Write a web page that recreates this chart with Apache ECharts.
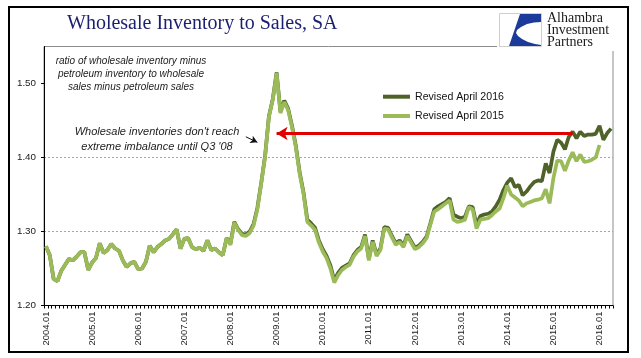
<!DOCTYPE html>
<html>
<head>
<meta charset="utf-8">
<script src="https://cdn.jsdelivr.net/npm/echarts@6/dist/echarts.min.js"></script>
<style>
html,body{margin:0;padding:0;background:#fff;}
#chart{width:641px;height:358px;}
</style>
</head>
<body>
<div id="chart"></div>
<script>
// ---- data ----
const startYear = 2004;
const monthCount = 148; // 2004.01 .. 2016.04
const categories = [];
for (let k = 0; k < monthCount; k++) {
  const y = startYear + Math.floor(k / 12);
  const m = (k % 12) + 1;
  categories.push(y + '.' + (m < 10 ? '0' + m : '' + m));
}

const revisedApril2016 = [
  1.280,1.268,1.236,1.233,1.247,1.255,1.263,1.261,1.266,1.272,1.272,1.248,
  1.258,1.264,1.284,1.271,1.275,1.283,1.277,1.274,1.261,1.252,1.257,1.259,
  1.249,1.250,1.259,1.281,1.272,1.279,1.283,1.288,1.290,1.296,1.303,1.277,
  1.290,1.291,1.279,1.276,1.278,1.274,1.288,1.275,1.277,1.272,1.268,1.291,
  1.284,1.313,1.303,1.297,1.296,1.300,1.310,1.332,1.366,1.402,1.456,1.479,
  1.515,1.462,1.477,1.466,1.443,1.416,1.380,1.353,1.316,1.311,1.305,1.288,
  1.276,1.267,1.254,1.234,1.244,1.251,1.254,1.257,1.268,1.275,1.279,1.296,
  1.263,1.288,1.269,1.277,1.306,1.305,1.294,1.284,1.288,1.281,1.296,1.287,
  1.278,1.281,1.286,1.293,1.311,1.330,1.334,1.337,1.340,1.345,1.323,1.320,
  1.318,1.320,1.334,1.333,1.309,1.321,1.323,1.324,1.327,1.334,1.343,1.356,
  1.366,1.372,1.360,1.363,1.349,1.354,1.361,1.367,1.369,1.368,1.392,1.379,
  1.408,1.424,1.420,1.411,1.428,1.435,1.426,1.435,1.429,1.431,1.431,1.432,
  1.443,1.424,1.433,1.439
];

const revisedApril2015 = [
  1.280,1.268,1.236,1.233,1.247,1.255,1.263,1.261,1.266,1.272,1.272,1.248,
  1.258,1.264,1.284,1.271,1.275,1.283,1.277,1.274,1.261,1.252,1.257,1.259,
  1.249,1.250,1.259,1.281,1.272,1.279,1.283,1.288,1.290,1.296,1.303,1.277,
  1.290,1.291,1.279,1.276,1.278,1.274,1.288,1.275,1.277,1.272,1.268,1.291,
  1.282,1.312,1.302,1.295,1.294,1.298,1.308,1.330,1.365,1.401,1.455,1.478,
  1.514,1.460,1.475,1.464,1.441,1.414,1.378,1.351,1.313,1.308,1.302,1.285,
  1.273,1.264,1.250,1.231,1.241,1.248,1.252,1.255,1.266,1.273,1.277,1.294,
  1.261,1.286,1.267,1.275,1.304,1.303,1.292,1.282,1.286,1.279,1.294,1.285,
  1.276,1.279,1.284,1.291,1.309,1.327,1.330,1.334,1.338,1.342,1.316,1.313,
  1.314,1.316,1.333,1.330,1.304,1.316,1.317,1.318,1.322,1.327,1.331,1.345,
  1.362,1.350,1.346,1.342,1.334,1.338,1.340,1.342,1.343,1.345,1.357,1.338,
  1.372,1.396,1.395,1.382,1.396,1.407,1.395,1.404,1.394,1.395,1.397,1.400,
  1.417
];

const yTickValues = [1.20, 1.30, 1.40, 1.50];
const seriesNames = ['Revised April 2016', 'Revised April 2015'];

// annotation arrows in data space [categoryIndex, value]
const redArrow = [[137, 1.4324], [60, 1.4324]];
const blackArrow = [[52, 1.4280], [55, 1.4205]];

const titleText = 'Wholesale Inventory to Sales, SA';
const noteText = 'ratio of wholesale inventory minus\npetroleum inventory to wholesale\nsales minus petroleum sales';
const calloutText = "Wholesale inventories don't reach\nextreme imbalance until Q3 '08";

// ---- chart ----
const chart = echarts.init(document.getElementById('chart'), null, {renderer: 'canvas'});
const DARK = '#4f6228', LIGHT = '#9bbb59';

const option = {
  animation: false,
  backgroundColor: '#ffffff',
  grid: {left: 44, right: 28, top: 46.5, bottom: 52.5, show: true, borderColor: '#8c8c8c', borderWidth: 1, backgroundColor: 'transparent'},
  legend: {
    data: seriesNames,
    orient: 'vertical',
    left: 383, top: 89.7,
    padding: 0,
    itemWidth: 27, itemHeight: 4, itemGap: 5.3,
    icon: 'rect',
    selectedMode: false,
    textStyle: {fontFamily: 'Liberation Sans', fontSize: 10.6, color: '#111', lineHeight: 14}
  },
  xAxis: {
    type: 'category',
    data: categories,
    boundaryGap: true,
    axisLine: {lineStyle: {color: '#000', width: 1}},
    axisTick: {show: true, interval: 0, length: 3, lineStyle: {color: '#000'}},
    axisLabel: {interval: 11, rotate: 90, margin: 6, fontFamily: 'Liberation Sans', fontSize: 9.4, color: '#1a1a1a'},
    splitLine: {show: false}
  },
  yAxis: {
    type: 'value',
    min: 1.2, max: 1.55, interval: 0.1,
    axisLine: {show: true, lineStyle: {color: '#000', width: 1}},
    axisTick: {show: true, length: 3, lineStyle: {color: '#000'}, customValues: yTickValues},
    axisLabel: {customValues: yTickValues, margin: 8, fontFamily: 'Liberation Sans', fontSize: 9.8, color: '#1a1a1a',
      formatter: v => v.toFixed(2)},
    splitLine: {show: true, showMinLine: false, showMaxLine: false, lineStyle: {color: '#a6a6a6', type: [2, 2], width: 1}}
  },
  series: [
    {
      name: seriesNames[0], type: 'line', data: revisedApril2016,
      showSymbol: false, symbol: 'none', z: 2,
      lineStyle: {color: DARK, width: 3.7}, itemStyle: {color: DARK},
      emphasis: {disabled: true}
    },
    {
      name: seriesNames[1], type: 'line', data: revisedApril2015,
      showSymbol: false, symbol: 'none', z: 3,
      lineStyle: {color: LIGHT, width: 3.7}, itemStyle: {color: LIGHT},
      emphasis: {disabled: true},
      markLine: {
        silent: true, animation: false,
        label: {show: false},
        emphasis: {disabled: true},
        data: [
          [{coord: redArrow[0], symbol: 'none', lineStyle: {color: '#e00000', width: 3, type: 'solid'}},
           {coord: redArrow[1], symbol: 'arrow', symbolSize: [10, 11]}],
          [{coord: blackArrow[0], symbol: 'none', lineStyle: {color: '#111', width: 1, type: 'solid'}},
           {coord: blackArrow[1], symbol: 'arrow', symbolSize: [6, 7], itemStyle: {color: '#111'}}]
        ]
      }
    }
  ],
  graphic: [
    {type: 'rect', z: 100, shape: {x: 9, y: 7, width: 619, height: 345}, style: {fill: 'none', stroke: '#000', lineWidth: 2}},
    {type: 'text', z: 100, x: 67, y: 24, style: {text: titleText, fontFamily: 'Liberation Serif', fontSize: 20, fill: '#1c1f6e', verticalAlign: 'middle', align: 'left'}},
    {type: 'rect', z: 100, shape: {x: 497, y: 9, width: 130, height: 42}, style: {fill: '#fff', stroke: 'none'}},
    {type: 'rect', z: 101, shape: {x: 499.5, y: 13.5, width: 42, height: 33}, style: {fill: '#fff', stroke: '#cfcfcf', lineWidth: 1}},
    {type: 'polygon', z: 102, shape: {points: [[520,14],[541,14],[541,22],[534,22.5],[527,24],[521,27],[517,30],[516,33],[518,36],[522,39],[528,42],[535,44],[541,45],[541,46],[509,46]]}, style: {fill: '#1b3a9a'}},
    {type: 'text', z: 102, x: 547, y: 30.5, style: {text: 'Alhambra\nInvestment\nPartners', fontFamily: 'Liberation Serif', fontSize: 14, lineHeight: 12.2, fill: '#1a1a1a', verticalAlign: 'middle', align: 'left'}},
    {type: 'text', z: 100, x: 131, y: 74.5, style: {text: noteText, fontFamily: 'Liberation Sans', fontStyle: 'italic', fontSize: 10, lineHeight: 12.8, fill: '#222', align: 'center', verticalAlign: 'middle'}},
    {type: 'text', z: 100, x: 157, y: 139.5, style: {text: calloutText, fontFamily: 'Liberation Sans', fontStyle: 'italic', fontSize: 11, lineHeight: 15.6, fill: '#222', align: 'center', verticalAlign: 'middle'}}
  ]
};
chart.setOption(option);
</script>
</body>
</html>
